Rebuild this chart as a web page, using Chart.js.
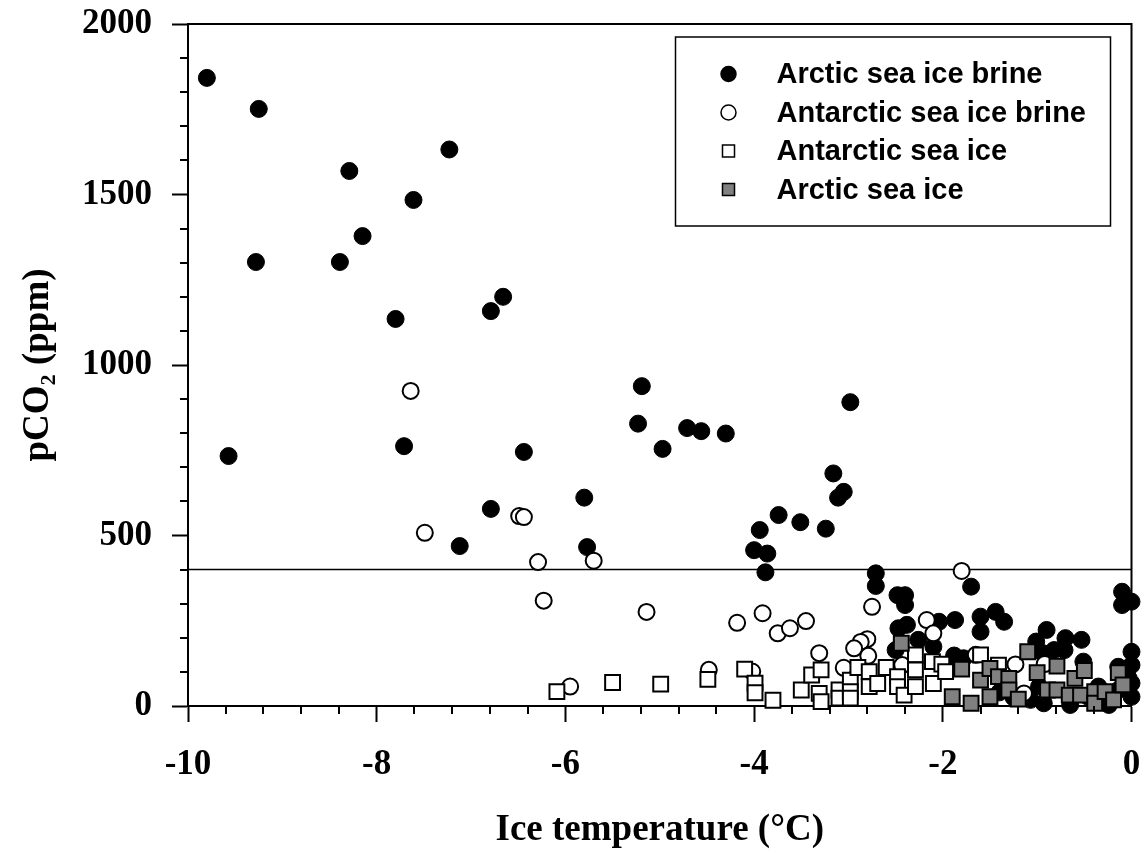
<!DOCTYPE html>
<html>
<head>
<meta charset="utf-8">
<script src="https://cdn.jsdelivr.net/npm/chart.js@4.4.1/dist/chart.umd.min.js"></script>
<style>
    html, body { margin: 0; padding: 0; background: #fff; }
    #wrap { width: 1144px; height: 849px; }
</style>
</head>
<body>
<div id="wrap"><canvas id="grafico" width="1144" height="849"></canvas></div>
<script>
// --- DADOS ---
// temperatura do gelo (°C) e pCO2 (ppm) de cada série
const arcticBrineT = [
    -9.80, -9.25, -9.28, -9.57, -8.29, -8.39, -8.15, -7.61, -7.80, -7.71,
    -7.23, -6.79, -6.66, -7.12, -6.79, -6.44, -5.80, -5.77, -5.19, -5.23,
    -4.71, -4.56, -4.30, -4.97, -2.98, -3.16, -3.11, -3.05, -3.24, -3.74,
    -3.51, -3.94, -4.00, -3.86, -3.88, -2.71, -2.71,
    -2.48, -2.40, -2.40, -1.70, -1.60, -1.44, -1.35, -1.60, -1.87, -2.04,
    -2.38, -2.47, -2.26, -2.10, -2.50, -1.88, -1.78, -1.85,
    -0.10, -0.10, 0.00, 0.00, 0.00, 0.00,
    -0.90, -1.01, -0.70, -0.53, -0.51, -0.94, -0.82, -0.71,
    -0.98, -0.93, -1.07, -0.65, -0.46, -0.35, -0.24, -0.14, -0.03, 0.00, -0.14,
    -1.40, -1.25
];
const arcticBrineCO2 = [
    1842, 1751, 1302, 733, 1569, 1302, 1378, 1484, 1135, 762,
    1632, 1158, 1200, 469, 578, 745, 611, 466, 938, 828,
    815, 806, 799, 754, 891, 682, 611, 628, 520, 560,
    539, 516, 457, 447, 392, 389, 352,
    325, 325, 296, 350, 262, 276, 247, 218, 252, 247,
    238, 228, 194, 174, 164, 148, 140, 115,
    335, 296, 306, 159, 120, 67,
    223, 189, 199, 194, 130, 155, 164, 164,
    57, 8, 18, 3, 27, 57, 3, 47, 81, 27, 115,
    40, 25
];

const antarcticBrineT = [
    -7.64, -7.49, -6.49, -6.44, -6.29, -5.70, -6.23, -5.14, -4.18, -3.91,
    -3.75, -3.62, -3.45, -5.95, -4.48, -4.02, -3.31,
    -1.80, -2.75, -2.17, -2.10, -2.80, -2.87, -2.94, -2.79, -3.05, -1.23,
    -0.92, -1.14, -1.65, -2.43
];
const antarcticBrineCO2 = [
    924, 508, 557, 554, 422, 426, 309, 276, 244, 272,
    213, 228, 249, 57, 106, 101, 155,
    396, 291, 252, 213, 196, 188, 169, 147, 112, 122,
    123, 37, 150, 120
];

const antarcticIceT = [
    -6.09, -5.50, -4.99, -4.49, -4.10, -3.99, -3.99, -3.80, -3.50, -3.39,
    -3.31, -3.29, -3.29, -3.10, -3.10, -2.98, -2.98, -2.98, -2.90, -2.78,
    -2.78, -2.69, -2.60, -2.48, -2.48, -2.41, -2.29, -2.29, -2.29, -2.10,
    -2.11, -2.01, -1.60, -1.97, -1.41
];
const antarcticIceCO2 = [
    42, 69, 64, 78, 108, 67, 39, 17, 47, 91,
    37, 106, 13, 47, 23, 76, 42, 23, 113, 101,
    57, 66, 113, 86, 57, 32, 150, 106, 57, 66,
    130, 123, 150, 101, 120
];

const arcticIceT = [
    -2.44, -1.90, -1.80, -1.70, -1.60, -1.50, -1.50, -1.41, -1.30, -1.30,
    -1.20, -1.10, -1.00, -0.89, -0.79, -0.79, -0.66, -0.60, -0.54, -0.50,
    -0.39, -0.39, -0.28, -0.19, -0.14, -0.09
];
const arcticIceCO2 = [
    184, 27, 108, 8, 76, 110, 27, 86, 81, 47,
    20, 159, 98, 47, 117, 47, 32, 81, 32, 104,
    42, 8, 42, 18, 98, 62
];

// linha de referência (pCO2 atmosférico)
const nivelAtmosfera = 400;
const limitesTemperatura = [-10, 0];

const seriesNomes = ['Arctic sea ice brine', 'Antarctic sea ice brine', 'Antarctic sea ice', 'Arctic sea ice'];

const paraPontos = (xs, ys) => xs.map((x, i) => ({ x: x, y: ys[i] }));

const fonteSerif = '"Liberation Serif", "Times New Roman", serif';
const fonteSans = '"Liberation Sans", Arial, sans-serif';

// --- PLUGIN: moldura, ticks menores e legenda ---
const molduraPlugin = {
    id: 'moldura',
    afterDraw(chart) {
        const ctx = chart.ctx;
        const area = chart.chartArea;
        const sx = chart.scales.x;
        const sy = chart.scales.y;

        ctx.save();
        ctx.strokeStyle = '#000';
        ctx.lineWidth = 2;

        // topo e lado direito
        ctx.beginPath();
        ctx.moveTo(area.left, area.top);
        ctx.lineTo(area.right, area.top);
        ctx.lineTo(area.right, area.bottom);
        ctx.stroke();

        // ticks menores
        ctx.beginPath();
        for (let i = 1; i < 25; i++) {
            if (i % 5 === 0) continue;
            const px = Math.round(sx.getPixelForValue(-10 + i * 0.4));
            ctx.moveTo(px, area.bottom);
            ctx.lineTo(px, area.bottom + 8);
        }
        for (let v = 100; v < 2000; v += 100) {
            if (v % 500 === 0) continue;
            const py = Math.round(sy.getPixelForValue(v));
            ctx.moveTo(area.left - 8, py);
            ctx.lineTo(area.left, py);
        }
        ctx.stroke();

        // legenda
        const boxL = area.right - 456;
        const boxT = area.top + 13;
        ctx.lineWidth = 1.5;
        ctx.strokeRect(boxL, boxT, 435, 189);

        ctx.font = 'bold 29px ' + fonteSans;
        ctx.textBaseline = 'middle';
        ctx.textAlign = 'left';
        const ds = chart.data.datasets.filter(d => d.label);
        ds.forEach((d, i) => {
            const yy = boxT + 37 + i * 38.5;
            ctx.fillStyle = d.backgroundColor;
            ctx.strokeStyle = d.borderColor;
            ctx.lineWidth = 1.5;
            Chart.helpers.drawPoint(ctx, {
                pointStyle: d.pointStyle,
                radius: d.pointStyle === 'rect' ? 8.5 : 7.5,
                borderWidth: 1.5,
                rotation: 0
            }, boxL + 53, yy);
            ctx.fillStyle = '#000';
            ctx.fillText(d.label, boxL + 101, yy + 1);
        });
        ctx.restore();
    }
};

const ctx = document.getElementById('grafico').getContext('2d');

new Chart(ctx, {
    type: 'scatter',
    data: {
        datasets: [
            {
                label: seriesNomes[0],
                data: paraPontos(arcticBrineT, arcticBrineCO2),
                pointStyle: 'circle',
                pointRadius: 8.5,
                backgroundColor: '#000',
                borderColor: '#000',
                borderWidth: 1,
                clip: false,
                order: 4
            },
            {
                label: seriesNomes[1],
                data: paraPontos(antarcticBrineT, antarcticBrineCO2),
                pointStyle: 'circle',
                pointRadius: 8,
                backgroundColor: '#fff',
                borderColor: '#000',
                borderWidth: 2,
                clip: false,
                order: 3
            },
            {
                label: seriesNomes[2],
                data: paraPontos(antarcticIceT, antarcticIceCO2),
                pointStyle: 'rect',
                pointRadius: 10.5,
                backgroundColor: '#fff',
                borderColor: '#000',
                borderWidth: 2,
                clip: false,
                order: 2
            },
            {
                label: seriesNomes[3],
                data: paraPontos(arcticIceT, arcticIceCO2),
                pointStyle: 'rect',
                pointRadius: 10.5,
                backgroundColor: '#808080',
                borderColor: '#000',
                borderWidth: 2,
                clip: false,
                order: 1
            },
            {
                data: limitesTemperatura.map(t => ({ x: t, y: nivelAtmosfera })),
                showLine: true,
                pointRadius: 0,
                borderColor: '#000',
                borderWidth: 1.5,
                order: 5
            }
        ]
    },
    options: {
        responsive: false,
        animation: false,
        events: [],
        layout: { padding: { left: 0, top: 24, right: 11, bottom: 0 } },
        plugins: {
            legend: { display: false },
            tooltip: { enabled: false }
        },
        scales: {
            x: {
                type: 'linear',
                min: -10,
                max: 0,
                afterFit: s => {
                    s.height = 143;
                    s.paddingLeft = 0;
                    s.paddingRight = 0;
                },
                ticks: {
                    stepSize: 2,
                    padding: 22,
                    color: '#000',
                    callback: v => String(v),
                    font: { family: fonteSerif, weight: 'bold', size: 35 }
                },
                grid: { drawOnChartArea: false, tickLength: 16, tickColor: '#000', tickWidth: 2 },
                border: { display: true, color: '#000', width: 2 },
                title: {
                    display: true,
                    text: 'Ice temperature (°C)',
                    color: '#000',
                    padding: { top: 0, bottom: 0 },
                    font: { family: fonteSerif, weight: 'bold', size: 37, lineHeight: 1 }
                }
            },
            y: {
                min: 0,
                max: 2000,
                afterFit: s => {
                    s.width = 188;
                    s.paddingTop = 0;
                    s.paddingBottom = 0;
                },
                ticks: {
                    stepSize: 500,
                    padding: 20,
                    color: '#000',
                    callback: v => String(v),
                    font: { family: fonteSerif, weight: 'bold', size: 35 }
                },
                grid: { drawOnChartArea: false, tickLength: 16, tickColor: '#000', tickWidth: 2 },
                border: { display: true, color: '#000', width: 2 },
                title: {
                    display: true,
                    text: 'pCO₂ (ppm)',
                    color: '#000',
                    padding: { top: 16, bottom: 0 },
                    font: { family: fonteSerif, weight: 'bold', size: 37 }
                }
            }
        }
    },
    plugins: [molduraPlugin]
});
</script>
</body>
</html>
